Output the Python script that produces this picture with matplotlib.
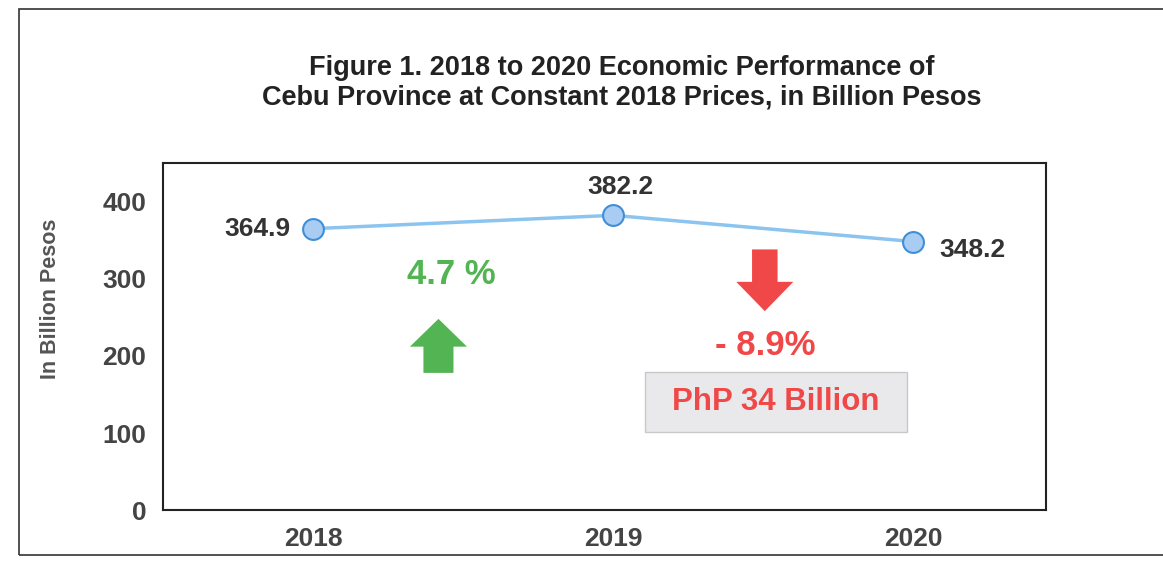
import numpy as np
import matplotlib.pyplot as plt
from matplotlib.patches import FancyArrow, Rectangle

years = ['2018', '2019', '2020']
values = [364.9, 382.2, 348.2]
yticks = [0, 100, 200, 300, 400]

plt.rcParams['font.family'] = ['Liberation Sans', 'DejaVu Sans']

fig = plt.figure(figsize=(11.63, 5.72), dpi=100)
fig.patch.set_facecolor('white')

# outer frame of the figure panel
fig.add_artist(Rectangle((0.016, 0.03), 1.0, 0.955, transform=fig.transFigure,
                         fill=False, edgecolor='#333333', linewidth=1.2))

fig.text(0.535, 0.855, 'Figure 1. 2018 to 2020 Economic Performance of\n'
         'Cebu Province at Constant 2018 Prices, in Billion Pesos',
         ha='center', va='center', fontsize=19.5, fontweight='bold',
         color='#222222', linespacing=1.2)

ax = fig.add_axes([0.140, 0.108, 0.759, 0.607])
x = np.arange(len(years))
ax.plot(x, values, color='#8CC4F0', linewidth=2.5, zorder=2)
ax.plot(x, values, 'o', markersize=15, markerfacecolor='#A9CDF2',
        markeredgecolor='#3F8ED8', markeredgewidth=1.5, zorder=3)

ax.set_xlim(-0.5, 2.44)
ax.set_ylim(0, 450)
ax.set_xticks(x)
ax.set_xticklabels(years)
ax.set_yticks(yticks)
ax.tick_params(length=0, labelsize=19, labelcolor='#444444', pad=12)
for lbl in ax.get_xticklabels() + ax.get_yticklabels():
    lbl.set_fontweight('bold')
for sp in ax.spines.values():
    sp.set_color('#222222')
    sp.set_linewidth(1.5)
ax.set_ylabel('In Billion Pesos', fontsize=15.5, fontweight='bold',
              color='#555555')
ax.yaxis.set_label_coords(-0.115, 0.61)

# point labels
ax.annotate(f'{values[0]}', (x[0], values[0]), xytext=(-16, 0),
            textcoords='offset points', ha='right', va='center',
            fontsize=19, fontweight='bold', color='#333333')
ax.annotate(f'{values[1]}', (x[1], values[1]), xytext=(5, 12),
            textcoords='offset points', ha='center', va='bottom',
            fontsize=19, fontweight='bold', color='#333333')
ax.annotate(f'{values[2]}', (x[2], values[2]), xytext=(19, -6),
            textcoords='offset points', ha='left', va='center',
            fontsize=19, fontweight='bold', color='#333333')

# growth arrows and annotations
ax.add_patch(FancyArrow(0.418, 178, 0, 70, width=0.1, head_width=0.19,
                        head_length=36, length_includes_head=True,
                        color='#52B452', linewidth=0))
ax.text(0.462, 306, '4.7 %', ha='center', va='center', fontsize=25,
        fontweight='bold', color='#52B452')

ax.add_patch(FancyArrow(1.505, 338, 0, -80, width=0.085, head_width=0.19,
                        head_length=38, length_includes_head=True,
                        color='#F04848', linewidth=0))
ax.text(1.505, 213, '- 8.9%', ha='center', va='center', fontsize=25,
        fontweight='bold', color='#F04848')
ax.add_patch(Rectangle((1.542 - 0.436, 101), 0.872, 78, facecolor='#E9E9EB',
                       edgecolor='#C8C8C8', linewidth=1, zorder=1))
ax.text(1.542, 140, 'PhP 34 Billion', ha='center', va='center', fontsize=22.5,
        fontweight='bold', color='#F04848', zorder=4)

fig.savefig('out.png', dpi=100)
